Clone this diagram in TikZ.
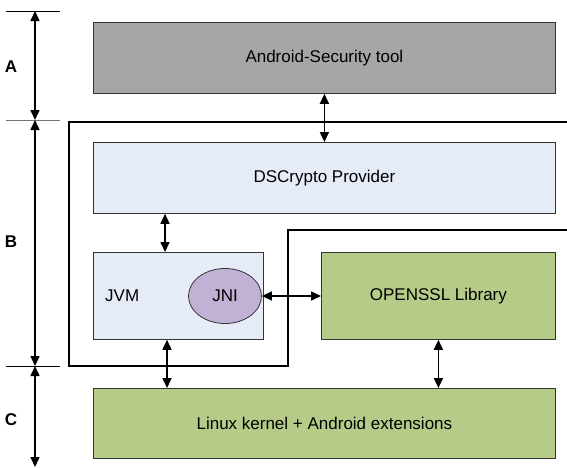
\documentclass[tikz,border=0pt]{standalone}
\usepackage{fontspec}
\setmainfont{Liberation Sans}
\usetikzlibrary{arrows.meta,shapes.geometric,calc}

\definecolor{toolgray}{HTML}{A6A6A6}
\definecolor{layerblue}{HTML}{E5ECF7}
\definecolor{jnipurple}{HTML}{C1B2D5}
\definecolor{libgreen}{HTML}{B6CB88}

\tikzset{
    layer/.style={draw=black!80, line width=0.8pt, anchor=north west, inner sep=0pt},
    link/.style={{Triangle[length=10pt,width=9pt]}-{Triangle[length=10pt,width=9pt]}, line width=1.6pt},
    dimline/.style={{Triangle[length=10pt,width=9pt]}-{Triangle[length=10pt,width=9pt]}, line width=1.6pt},
    tick/.style={line width=0.8pt},
    frame/.style={line width=2pt},
    tag/.style={font=\fontsize{17}{20}\selectfont\bfseries}
}

\begin{document}
\begin{tikzpicture}[x=1pt, y=-1pt, font=\fontsize{17}{20}\selectfont]
    \useasboundingbox (0,0) rectangle (567,467);

    % layers
    \node[layer, fill=toolgray, minimum width=462pt, minimum height=71pt] (tool) at (93,22) {};
    \node at (tool.center) {Android-Security tool};
    \node[layer, fill=layerblue, minimum width=462pt, minimum height=71pt] (prov) at (93,142) {};
    \node at (prov.center) {DSCrypto Provider};
    \node[layer, fill=layerblue, minimum width=170pt, minimum height=87pt] (jvm) at (93,252) {};
    \node[anchor=west, inner sep=0pt] at ([xshift=12pt]jvm.west) {JVM};
    \node[draw=black!80, line width=0.8pt, fill=jnipurple, ellipse, minimum width=73pt, minimum height=55pt, inner sep=0pt] (jni) at (225,296) {JNI};
    \node[layer, fill=libgreen, minimum width=234pt, minimum height=87pt] (ssl) at (321,252) {};
    \node at (ssl.center) {OPENSSL Library};
    \node[layer, fill=libgreen, minimum width=462pt, minimum height=70pt] (linux) at (93,388) {};
    \node at (linux.center) {Linux kernel + Android extensions};

    % frame round the B layer
    \draw[frame] (567,122) -- (69,122) -- (69,366) -- (288,366) -- (288,230) -- (567,230);

    % connectors
    \draw[link] (tool.south) -- (prov.north);
    \draw[link] (prov.south -| 165,0) -- (jvm.north -| 165,0);
    \draw[link] (jvm.south -| 167,0) -- (linux.north -| 167,0);
    \draw[link] (jni.east) -- (ssl.west |- jni.east);
    \draw[link] (ssl.south) -- (linux.north -| ssl.south);

    % dimension lines
    \coordinate (topA) at (35,11);
    \coordinate (topB) at (35,120);
    \coordinate (topC) at (35,366);
    \coordinate (endC) at (35,467);
    \draw[tick] (6,11) -- (60,11);
    \draw[tick, black!55] (6,120) -- (60,120);
    \draw[tick] (6,366) -- (60,366);
    \draw[dimline] (topA) -- (topB);
    \draw[dimline] (topB) -- (topC);
    \draw[dimline] (topC) -- (endC);
    \node[tag] at (11,67) {A};
    \node[tag] at (11,242) {B};
    \node[tag] at (11,420) {C};
\end{tikzpicture}
\end{document}
